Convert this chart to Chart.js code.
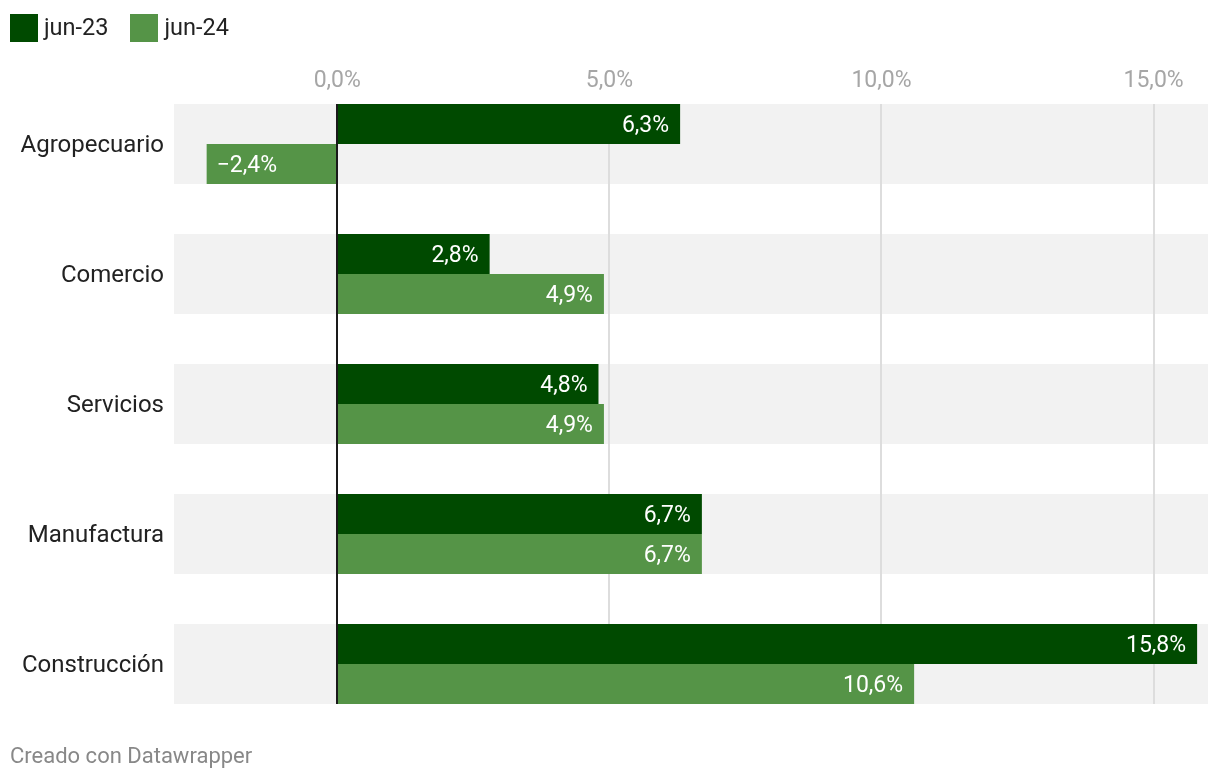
<!DOCTYPE html>
<html>
<head>
<meta charset="utf-8">
<script src="https://cdn.jsdelivr.net/npm/chart.js@4"></script>
<style>
  html, body { margin: 0; padding: 0; background: #fff; }
  body { width: 1220px; height: 782px; position: relative; overflow: hidden; font-family: Roboto, "Noto Sans", sans-serif; }
  #wrap { position: absolute; left: 0; top: 0; width: 1220px; height: 782px; }
  #legend { position: absolute; left: 10px; top: 14px; display: flex; align-items: center; font-size: 23.5px; color: #222; line-height: 28px; }
  .item { display: flex; align-items: center; margin-right: 22px; }
  .item span { position: relative; top: -1px; }
  .box { width: 28px; height: 28px; margin-right: 6px; }
  #footer { position: absolute; left: 10px; top: 743px; font-size: 22px; color: #888; line-height: 26px; }
</style>
</head>
<body>
<div id="wrap"><canvas id="c" width="1220" height="782"></canvas></div>
<div id="legend"></div>
<div id="footer">Creado con Datawrapper</div>
<script>
const categories = ["Agropecuario", "Comercio", "Servicios", "Manufactura", "Construcción"];
const seriesNames = ["jun-23", "jun-24"];
const jun23 = [6.3, 2.8, 4.8, 6.7, 15.8];
const jun24 = [-2.4, 4.9, 4.9, 6.7, 10.6];
const xTicks = [0, 5, 10, 15];
const colors = ["#004a00", "#559447"];

function fmt(v) {
  const s = Math.abs(v).toFixed(1).replace('.', ',') + '%';
  return v < 0 ? '\u2212' + s : s;
}

// HTML legend
const legend = document.getElementById('legend');
seriesNames.forEach((n, i) => {
  const it = document.createElement('div');
  it.className = 'item';
  it.innerHTML = '<div class="box" style="background:' + colors[i] + '"></div><span>' + n + '</span>';
  legend.appendChild(it);
});

const bgPlugin = {
  id: 'bg',
  beforeDatasetsDraw(chart) {
    const { ctx, chartArea, scales } = chart;
    const y = scales.y, x = scales.x;
    const half = 40;
    ctx.save();
    ctx.fillStyle = '#f2f2f2';
    categories.forEach((c, i) => {
      const cy = y.getPixelForValue(i);
      ctx.fillRect(chartArea.left, cy - half, chartArea.right - chartArea.left, half * 2);
    });
    const top = y.getPixelForValue(0) - half;
    const bottom = y.getPixelForValue(categories.length - 1) + half;
    ctx.strokeStyle = '#dddddd';
    ctx.lineWidth = 2;
    x.ticks.forEach(t => {
      if (t.value === 0) return;
      const px = Math.round(x.getPixelForValue(t.value));
      ctx.beginPath();
      ctx.moveTo(px, top);
      ctx.lineTo(px, bottom);
      ctx.stroke();
    });
    // x tick labels (drawn here so they are not clipped to the axis box)
    ctx.fillStyle = '#a6a6a6';
    ctx.font = '23px Roboto';
    ctx.textAlign = 'center';
    ctx.textBaseline = 'middle';
    x.ticks.forEach(t => {
      ctx.fillText(fmt(t.value), x.getPixelForValue(t.value), 81);
    });
    ctx.restore();
  },
  afterDatasetsDraw(chart) {
    const { ctx, scales } = chart;
    const y = scales.y, x = scales.x;
    const half = 40;
    const top = y.getPixelForValue(0) - half;
    const bottom = y.getPixelForValue(categories.length - 1) + half;
    ctx.save();
    // zero line
    ctx.strokeStyle = '#1a1a1a';
    ctx.lineWidth = 2;
    const px = Math.round(x.getPixelForValue(0));
    ctx.beginPath();
    ctx.moveTo(px, top);
    ctx.lineTo(px, bottom);
    ctx.stroke();
    // value labels
    ctx.fillStyle = '#ffffff';
    ctx.font = '23px Roboto';
    ctx.textBaseline = 'middle';
    chart.data.datasets.forEach((ds, di) => {
      const meta = chart.getDatasetMeta(di);
      meta.data.forEach((bar, i) => {
        const v = ds.data[i];
        if (v >= 0) {
          ctx.textAlign = 'right';
          ctx.fillText(fmt(v), bar.x - 11, bar.y + 2);
        } else {
          ctx.textAlign = 'left';
          ctx.fillText(fmt(v), bar.x + 10, bar.y + 2);
        }
      });
    });
    ctx.restore();
  }
};

new Chart(document.getElementById('c'), {
  type: 'bar',
  data: {
    labels: categories,
    datasets: [
      { label: seriesNames[0], data: jun23, backgroundColor: colors[0], borderWidth: 0, categoryPercentage: 80 / 130, barPercentage: 1 },
      { label: seriesNames[1], data: jun24, backgroundColor: colors[1], borderWidth: 0, categoryPercentage: 80 / 130, barPercentage: 1 }
    ]
  },
  options: {
    indexAxis: 'y',
    responsive: false,
    animation: false,
    devicePixelRatio: 1,
    layout: { padding: { left: 0, right: 12, top: 0, bottom: 53 } },
    plugins: { legend: { display: false }, tooltip: { enabled: false } },
    scales: {
      x: {
        position: 'top',
        min: -3,
        max: 16,
        afterBuildTicks(scale) { scale.ticks = xTicks.map(v => ({ value: v })); },
        afterFit(scale) { scale.height = 79; },
        grid: { display: false, drawTicks: false },
        border: { display: false },
        ticks: { display: false, callback: (v) => fmt(v) }
      },
      y: {
        afterFit(scale) { scale.width = 174; },
        grid: { display: false, drawTicks: false },
        border: { display: false },
        ticks: {
          padding: 10,
          labelOffset: 2,
          color: '#222222',
          font: { family: 'Roboto', size: 24 }
        }
      }
    }
  },
  plugins: [bgPlugin]
});
</script>
</body>
</html>
